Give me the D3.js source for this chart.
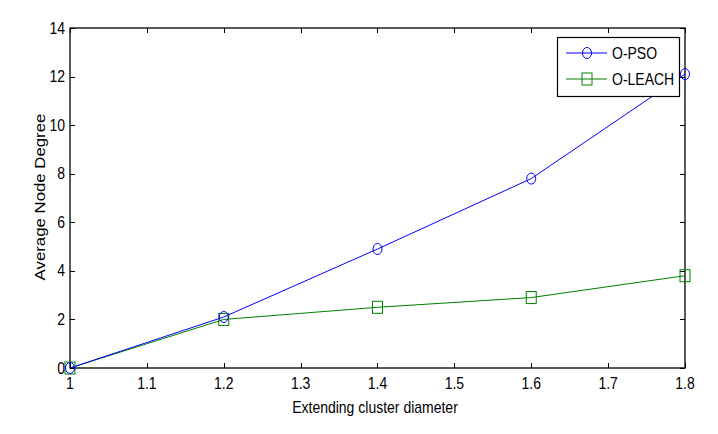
<!DOCTYPE html>
<html><head><meta charset="utf-8">
<script src="https://cdn.jsdelivr.net/npm/d3@7/dist/d3.min.js"></script>
<style>body{margin:0;background:#fff}text{font-family:Arial,"Liberation Sans",sans-serif;font-size:14px;fill:#000}</style>
</head><body>
<svg id="c" width="718" height="434"></svg>
<script>
const xValues = [1.0, 1.2, 1.4, 1.6, 1.8];
const psoValues = [0, 2.1, 4.9, 7.8, 12.1];
const leachValues = [0, 2.0, 2.5, 2.9, 3.8];
const xTicks = [1, 1.1, 1.2, 1.3, 1.4, 1.5, 1.6, 1.7, 1.8];
const yTicks = [0, 2, 4, 6, 8, 10, 12, 14];
const seriesNames = ["O-PSO", "O-LEACH"];

const L = 70, R = 685, T = 28, B = 368;
const svg = d3.select("#c");
const x = d3.scaleLinear().domain([1, 1.8]).range([L, R]);
const y = d3.scaleLinear().domain([0, 14]).range([B, T]);
const SY = 1.2;
const blue = "#0000ff", green = "#008000";

// box
svg.append("rect").attr("x", L).attr("y", T).attr("width", R - L).attr("height", B - T)
  .attr("fill", "none").attr("stroke", "#000").attr("stroke-width", 1.3);

const tl = 5;
const g = svg.append("g");
xTicks.forEach(v => {
  const px = Math.round(x(v)) + 0.5;
  g.append("line").attr("x1", px).attr("x2", px).attr("y1", B).attr("y2", B - tl).attr("stroke", "#000");
  g.append("line").attr("x1", px).attr("x2", px).attr("y1", T).attr("y2", T + tl).attr("stroke", "#000");
  g.append("text").attr("transform", `translate(${x(v)},389) scale(1,${SY})`)
    .attr("text-anchor", "middle").text(d3.format("")(v));
});
yTicks.forEach(v => {
  const py = Math.round(y(v)) + 0.5;
  g.append("line").attr("x1", L).attr("x2", L + tl).attr("y1", py).attr("y2", py).attr("stroke", "#000");
  g.append("line").attr("x1", R).attr("x2", R - tl).attr("y1", py).attr("y2", py).attr("stroke", "#000");
  g.append("text").attr("transform", `translate(65,${y(v) + 5.5}) scale(1,${SY})`)
    .attr("text-anchor", "end").text(v);
});

svg.append("text").attr("transform", `translate(375,413) scale(1,${SY})`)
  .attr("text-anchor", "middle").text("Extending cluster diameter");
svg.append("text").attr("transform", `translate(45,197) scale(1,${SY}) rotate(-90)`)
  .attr("text-anchor", "middle").text("Average Node Degree");

const line = d3.line().x(d => x(d[0])).y(d => y(d[1]));
const pso = xValues.map((v, i) => [v, psoValues[i]]);
const leach = xValues.map((v, i) => [v, leachValues[i]]);

svg.append("path").datum(leach).attr("d", line).attr("fill", "none").attr("stroke", green).attr("stroke-width", 1);
svg.append("path").datum(pso).attr("d", line).attr("fill", "none").attr("stroke", blue).attr("stroke-width", 1);

function circ(sel, cx, cy, c) {
  sel.append("ellipse").attr("cx", cx).attr("cy", cy).attr("rx", 4.5).attr("ry", 5.5)
    .attr("fill", "none").attr("stroke", c).attr("stroke-width", 1);
}
function sq(sel, cx, cy, c) {
  sel.append("rect").attr("x", cx - 5).attr("y", cy - 6).attr("width", 10).attr("height", 12)
    .attr("fill", "none").attr("stroke", c).attr("stroke-width", 1);
}
leach.forEach(d => sq(svg, x(d[0]), y(d[1]), green));
pso.forEach(d => circ(svg, x(d[0]), y(d[1]), blue));

// legend
const lg = svg.append("g");
lg.append("rect").attr("x", 557.5).attr("y", 37.5).attr("width", 122).attr("height", 59)
  .attr("fill", "#fff").attr("stroke", "#000").attr("stroke-width", 1.2);
const rows = [[53, blue, circ], [79, green, sq]];
rows.forEach((r, i) => {
  lg.append("line").attr("x1", 566).attr("x2", 607).attr("y1", r[0]).attr("y2", r[0]).attr("stroke", r[1]);
  r[2](lg, 587, r[0], r[1]);
  lg.append("text").attr("transform", `translate(612,${r[0] + 6}) scale(1,${SY})`).text(seriesNames[i]);
});
</script>
</body></html>
